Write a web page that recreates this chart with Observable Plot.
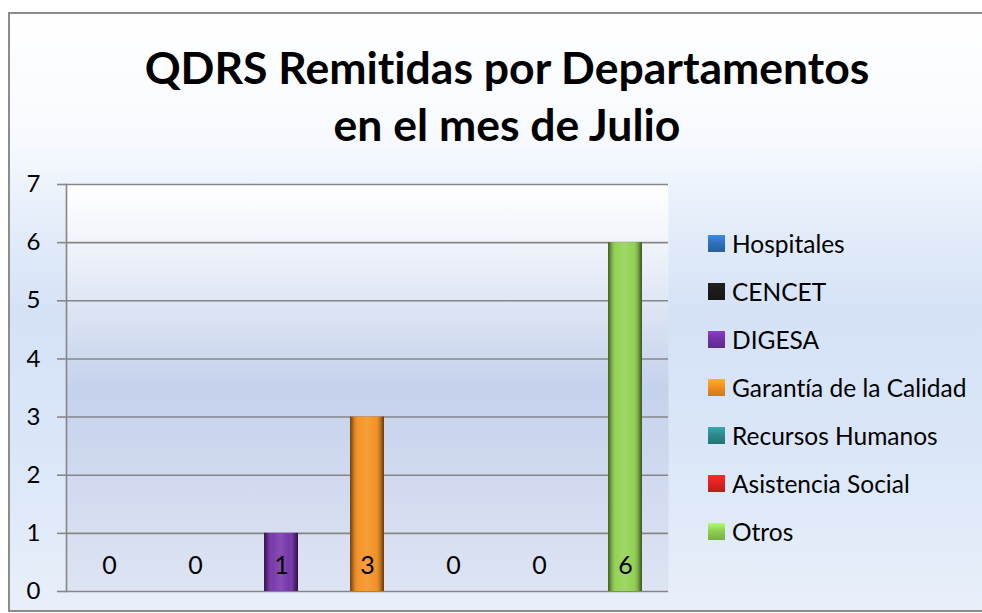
<!DOCTYPE html>
<html>
<head>
<meta charset="utf-8">
<script src="https://cdn.jsdelivr.net/npm/d3@7"></script>
<script src="https://cdn.jsdelivr.net/npm/@observablehq/plot@0.6"></script>
<style>
  body { margin: 0; background: #ffffff; font-family: Lato, "Open Sans", sans-serif; font-variant-ligatures: none; }
  #wrap { position: relative; width: 982px; height: 613px; overflow: hidden; }
  #box { position: absolute; left: 8px; top: 12px; width: 1000px; height: 596px;
         border: 2px solid #8c8c8c; border-right: none;
         background: linear-gradient(to bottom, #ffffff 0%, #f6f9fe 22%, #e3ecf9 36%, #d5e2f6 50%, #dae6f8 72%, #e8eff9 100%); }
  #chart { position: absolute; left: 0; top: 0; }
  #title { position: absolute; left: 0; top: 38px; width: 1014px; text-align: center;
           font-family: Lato, "Open Sans", sans-serif; font-weight: 700; font-size: 44.5px;
           line-height: 57px; color: #000; font-variant-ligatures: none; }
  #legend { position: absolute; left: 708px; top: 219px; }
  .row { height: 48px; display: flex; align-items: center; font-size: 24.5px; color: #000; }
  .sw { width: 17px; height: 17px; margin-right: 7px; box-sizing: border-box; }
</style>
</head>
<body>
<div id="wrap">
  <div id="box"></div>
  <div id="chart"></div>
  <div id="title">QDRS Remitidas por Departamentos<br>en el mes de Julio</div>
  <div id="legend"></div>
</div>
<script>
const categories = ["Hospitales", "CENCET", "DIGESA", "Garantía de la Calidad", "Recursos Humanos", "Asistencia Social", "Otros"];
const values = [0, 0, 1, 3, 0, 0, 6];
const colors = ["#2f72bd", "#1b1b1b", "#7331a8", "#f58f1e", "#2b8a8c", "#e2221f", "#8fd14f"];
const yTicks = [0, 1, 2, 3, 4, 5, 6, 7];

const data = categories.map((c, i) => ({category: c, value: values[i]}));

const plot = Plot.plot({
  width: 982,
  height: 613,
  marginLeft: 66,
  marginRight: 314,
  marginTop: 184,
  marginBottom: 22,
  style: {background: "transparent", fontFamily: "Lato, 'Open Sans', sans-serif", fontSize: "24px", color: "#000", overflow: "visible"},
  x: {domain: categories, paddingInner: 0.6, paddingOuter: 0.3, axis: null},
  y: {domain: [0, 7], ticks: yTicks},
  color: {domain: categories, range: colors},
  marks: [
    Plot.frame({fill: "url(#plotBg)", stroke: "none"}),
    Plot.gridY(yTicks, {stroke: "#868686", strokeOpacity: 1, strokeWidth: 1.6}),
    Plot.axisY(yTicks, {tickSize: 9, tickPadding: 17, stroke: "#868686", strokeWidth: 1.6, fill: "#000", label: null, fontSize: 24, tickFormat: d => String(d)}),
    Plot.frame({anchor: "left", stroke: "#868686", strokeWidth: 1.6}),
    Plot.barY(data, {x: "category", y: "value", fill: "category"}),
    Plot.barY(data, {x: "category", y: "value", fill: "url(#shade)"}),
    Plot.text(data, {x: "category", y: () => 0, dy: -26, text: d => String(d.value), fill: "#000", fontSize: 25})
  ]
});

const svg = d3.select(plot);
const defs = svg.insert("defs", ":first-child");
const bg = defs.append("linearGradient").attr("id", "plotBg").attr("x1", 0).attr("y1", 0).attr("x2", 0).attr("y2", 1);
[["0%", "#ffffff"], ["15%", "#f0f3fa"], ["50%", "#c5d2ec"], ["80%", "#d4dcf0"], ["100%", "#dde4f3"]]
  .forEach(([o, c]) => bg.append("stop").attr("offset", o).attr("stop-color", c));
const sh = defs.append("linearGradient").attr("id", "shade").attr("x1", 0).attr("y1", 0).attr("x2", 1).attr("y2", 0);
[["0%", "#000", 0.55], ["9%", "#000", 0.25], ["25%", "#fff", 0.05], ["50%", "#fff", 0.14], ["72%", "#fff", 0.03], ["90%", "#000", 0.25], ["100%", "#000", 0.6]]
  .forEach(([o, c, a]) => sh.append("stop").attr("offset", o).attr("stop-color", c).attr("stop-opacity", a));

document.getElementById("chart").appendChild(plot);

const legend = d3.select("#legend");
categories.forEach((c, i) => {
  const row = legend.append("div").attr("class", "row");
  row.append("div").attr("class", "sw")
    .style("background", `linear-gradient(to bottom, ${d3.color(colors[i]).brighter(0.6)} 0%, ${colors[i]} 45%, ${d3.color(colors[i]).darker(0.5)} 100%)`);
  row.append("span").text(c);
});
</script>
</body>
</html>
